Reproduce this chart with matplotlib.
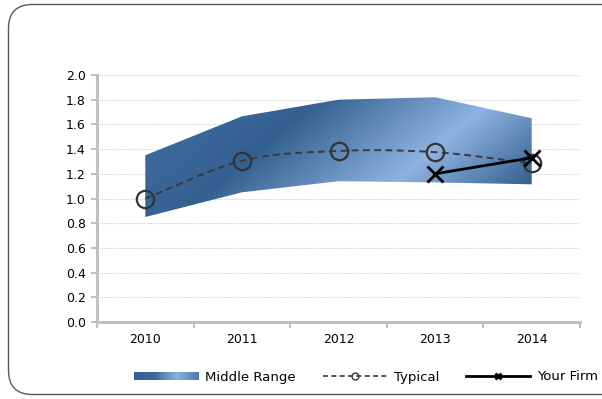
import numpy as np
import matplotlib
matplotlib.use("Agg")
import matplotlib.pyplot as plt
from matplotlib.patches import Polygon, FancyBboxPatch, Patch
from matplotlib.colors import LinearSegmentedColormap
from matplotlib.lines import Line2D
from matplotlib.transforms import IdentityTransform

years = ["2010", "2011", "2012", "2013", "2014"]
range_low = [0.85, 1.05, 1.14, 1.13, 1.115]
range_high = [1.35, 1.665, 1.80, 1.82, 1.65]
typical = [1.0, 1.305, 1.385, 1.375, 1.285]
firm_years = ["2013", "2014"]
firm = [1.20, 1.33]
y_ticks = [0.0, 0.2, 0.4, 0.6, 0.8, 1.0, 1.2, 1.4, 1.6, 1.8, 2.0]

x = np.arange(len(years))
fx = np.array([years.index(y) for y in firm_years])


def catmull_rom(xs, ys, n=30):
    xs = np.asarray(xs, float); ys = np.asarray(ys, float)
    P = np.column_stack([xs, ys])
    P = np.vstack([P[0] - (P[1] - P[0]), P, P[-1] + (P[-1] - P[-2])])
    out = []
    for i in range(1, len(P) - 2):
        p0, p1, p2, p3 = P[i - 1], P[i], P[i + 1], P[i + 2]
        t = np.linspace(0, 1, n)[:, None]
        seg = 0.5 * ((2 * p1) + (-p0 + p2) * t + (2 * p0 - 5 * p1 + 4 * p2 - p3) * t ** 2
                     + (-p0 + 3 * p1 - 3 * p2 + p3) * t ** 3)
        out.append(seg if i == 1 else seg[1:])
    out = np.vstack(out)
    return out[:, 0], out[:, 1]


W, H = 602, 399
fig = plt.figure(figsize=(W / 100, H / 100), dpi=100)

# rounded border (pixel coordinates, origin bottom-left)
border = FancyBboxPatch((8.5, 4.5), 640, 390,
                        boxstyle="round,pad=0,rounding_size=24",
                        transform=IdentityTransform(), fill=False,
                        edgecolor="#595959", linewidth=1.0)
fig.add_artist(border)

ax = fig.add_axes([97 / W, 1 - 322 / H, 483 / W, 247 / H])
ax.set_xlim(-0.5, len(years) - 0.5)
ax.set_ylim(0, 2.0)

# gradient fill for middle range
cmap = LinearSegmentedColormap.from_list(
    "mr", [(0.0, "#3b689b"), (0.2, "#33608f"), (0.65, "#8fb3e0"), (1.0, "#33608f")])
nx, ny = 400, 250
U, V = np.meshgrid(np.linspace(0, 1, nx), np.linspace(0, 1, ny))
px = 97 + U * 483
py = 322 - V * 247
t = 84 * px + 100 * py
t = np.clip((t - 30000) / (63000 - 30000), 0, 1)
im = ax.imshow(t, cmap=cmap, origin="lower", extent=(0, 1, 0, 1),
               transform=ax.transAxes, aspect="auto", vmin=0, vmax=1, zorder=1)
poly_pts = np.column_stack([np.concatenate([x, x[::-1]]),
                            np.concatenate([range_high, range_low[::-1]])])
poly = Polygon(poly_pts, closed=True, transform=ax.transData, facecolor="none",
               edgecolor="none")
ax.add_patch(poly)
im.set_clip_path(poly)

# typical
sx, sy = catmull_rom(x, typical)
ax.plot(sx, sy, color="#3a3a3a", linestyle=(0, (3.5, 2.3)), linewidth=1.4, zorder=3)
ax.plot(x, typical, linestyle="none", marker="o", markersize=12.5,
        markerfacecolor="none", markeredgecolor="#333333", markeredgewidth=1.6, zorder=4)

# your firm
ax.plot(fx, firm, color="black", linewidth=2.0, marker="x", markersize=12,
        markeredgewidth=2.0, zorder=5)

# grid / axes style
ax.set_yticks(y_ticks)
ax.set_yticklabels([f"{v:.1f}" for v in y_ticks])
ax.yaxis.grid(True, color="#d0d0d0", linestyle=(0, (1, 1)), linewidth=0.8)
ax.set_axisbelow(True)
ax.set_xticks(x)
ax.set_xticklabels(years)
ax.set_xticks(np.arange(-0.5, len(years)), minor=True)
ax.tick_params(axis="x", which="major", length=0, pad=8, labelsize=9, colors="#000000")
ax.tick_params(axis="x", which="minor", length=4, width=1.5, color="#c0c0c0")
ax.tick_params(axis="y", length=4, width=1.5, color="#c0c0c0", labelsize=9, pad=4)
for s in ["top", "right"]:
    ax.spines[s].set_visible(False)
for s in ["left", "bottom"]:
    ax.spines[s].set_color("#c0c0c0")
    ax.spines[s].set_linewidth(2.2)
ax.set_facecolor("none")

# legend
handles = [Patch(facecolor="#5a82b5", edgecolor="none"),
           Line2D([], [], color="#3a3a3a", linestyle=(0, (3, 2)), linewidth=1.2,
                  marker="o", markersize=5, markerfacecolor="none",
                  markeredgecolor="#3a3a3a"),
           Line2D([], [], color="black", linewidth=2.0, marker="x", markersize=5,
                  markeredgewidth=2.0)]
leg = fig.legend(handles, ["Middle Range", "Typical", "Your Firm"],
                 loc="center", bbox_to_anchor=(366 / W, 1 - 377 / H), ncol=3,
                 frameon=False, fontsize=9.5, handlelength=4.9, handleheight=0.6,
                 columnspacing=2.0, handletextpad=0.5)

# paint a gradient over the legend's patch
fig.canvas.draw()
bb = leg.legend_handles[0].get_window_extent()
lax = fig.add_axes([bb.x0 / W, bb.y0 / H, bb.width / W, bb.height / H], zorder=10)
lax.axis("off")
lg = np.linspace(0, 1, 100)[None, :]
lcmap = LinearSegmentedColormap.from_list("lg", ["#33608f", "#3d6a9e", "#8fb3e0", "#4a76a8"])
lax.imshow(lg, cmap=lcmap, aspect="auto", extent=(0, 1, 0, 1))
lax.set_xlim(0, 1); lax.set_ylim(0, 1)

fig.savefig("out.png", dpi=100)
